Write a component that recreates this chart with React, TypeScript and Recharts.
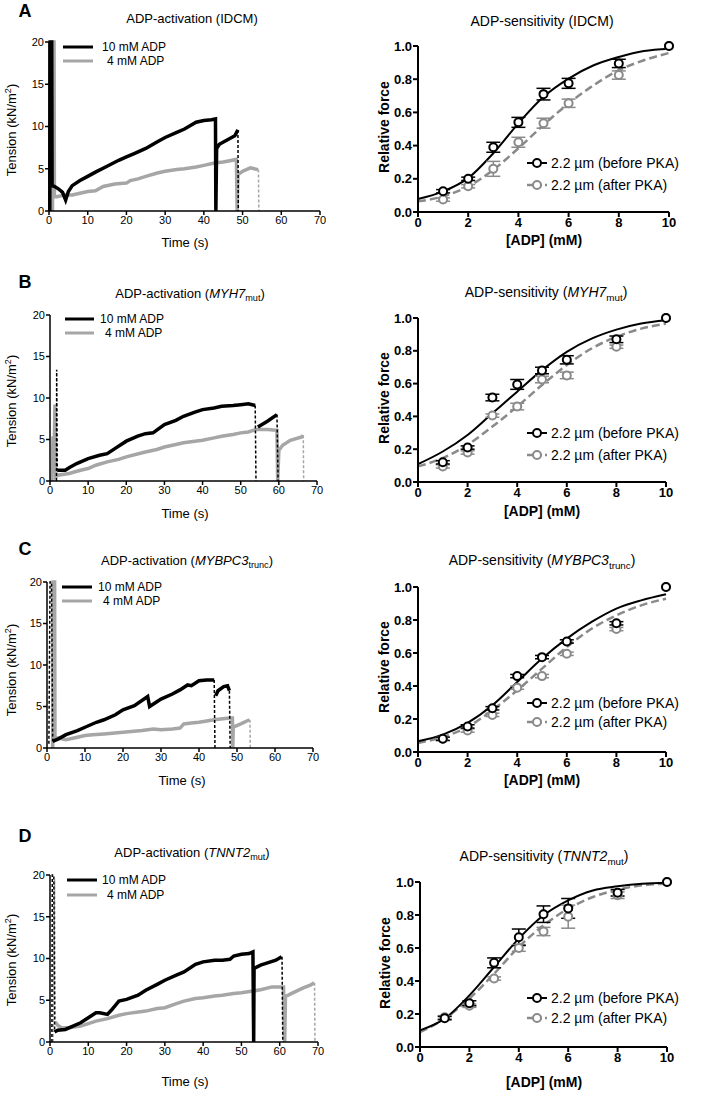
import React from 'react';
import { LineChart, Line, XAxis, YAxis, ErrorBar } from 'recharts';

const FONT = '"Liberation Sans", Arial, Helvetica, sans-serif';
const TRACE_GREY = '#a6a6a6';
const FIT_GREY = '#8a8a8a';

// ---------- ADP-activation traces: [time (s), tension (kN/m2)], null = gap ----------
const idcm10: (number | null)[][] = [
  [0.2, 0], [0.3, 20], [0.7, 20], [0.8, 3.0], [1.5, 2.9], [2.5, 2.6], [3.5, 2.2], [4.3, 1.3], [5, 2.3], [6, 3.0],
  [8, 3.6], [10, 4.1], [12, 4.6], [15, 5.3], [18, 6.0], [20, 6.4], [22, 6.8], [25, 7.4], [28, 8.2], [30, 8.7],
  [33, 9.3], [35, 9.7], [38, 10.5], [40, 10.7], [42, 10.8], [43, 10.9], [43.1, 0], [43.3, 7.4], [44, 7.9],
  [46, 8.4], [48, 8.9], [48.8, 9.6],
];
const idcm10Drop: (number | null)[][] = [[48.8, 9.6], [48.9, 0]];
const idcm4: (number | null)[][] = [
  [0.9, 0], [1.0, 20], [1.3, 20], [1.4, 1.7], [2, 1.7], [4, 1.9], [6, 1.9], [8, 2.1], [10, 2.3], [12, 2.4],
  [14, 2.9], [17, 3.2], [20, 3.3], [21, 3.6], [23, 3.8], [25, 4.1], [28, 4.5], [30, 4.7], [33, 4.9], [35, 5.0],
  [38, 5.2], [40, 5.4], [43, 5.7], [45, 5.8], [48.4, 6.1], [48.6, 0], [48.8, 4.3], [50, 4.7], [52, 5.1], [54, 4.9],
];
const idcm4Drop: (number | null)[][] = [[54.1, 4.9], [54.2, 0]];

const myh710: (number | null)[][] = [
  [1.9, 1.3], [4, 1.3], [5, 1.6], [7, 2.1], [10, 2.7], [13, 3.1], [15, 3.3], [17, 3.9], [20, 4.8], [23, 5.4],
  [25, 5.7], [27, 5.8], [30, 6.8], [33, 7.3], [35, 7.8], [38, 8.3], [40, 8.6], [43, 8.8], [45, 9.0], [48, 9.1],
  [50, 9.2], [52, 9.3], [53.8, 9.1], [54.2, null], [54.5, 6.5], [57, 7.2], [59.5, 8.0],
];
const myh710Drop: (number | null)[][] = [
  [1.7, 0], [1.75, 13.4], [1.9, 1.3], [1.95, null], [53.8, 9.1], [54, 0], [54.1, null], [59.5, 8.0], [59.8, 0],
];
const myh74: (number | null)[][] = [
  [0.5, 0], [0.8, 5.4], [1.0, 1.0], [1.3, 9.2], [1.5, 0.5], [2, 0.7], [5, 0.9], [8, 1.3], [10, 1.5], [12, 1.9],
  [15, 2.3], [18, 2.6], [20, 2.9], [25, 3.5], [28, 3.8], [30, 4.1], [33, 4.4], [35, 4.6], [38, 4.8], [40, 4.9],
  [43, 5.2], [45, 5.4], [48, 5.6], [50, 5.8], [52, 5.9], [54, 6.2], [57, 6.2], [59.5, 6.1], [59.7, 0], [60, 3.7],
  [61, 4.3], [63, 4.9], [66, 5.3], [66.3, 5.5],
];
const myh74Drop: (number | null)[][] = [[66.4, 5.5], [66.5, 0]];

const mybpc310: (number | null)[][] = [
  [1.5, 0.8], [3, 1.1], [5, 1.6], [8, 2.1], [10, 2.5], [13, 3.1], [15, 3.4], [18, 4.0], [20, 4.6], [23, 5.1],
  [26.5, 6.2], [27, 5.0], [30, 5.9], [33, 6.5], [35, 7.0], [37, 7.6], [38, 7.5], [40, 8.1], [42, 8.2], [44, 8.2],
  [44.3, null], [44.4, 6.3], [45, 6.9], [46.5, 7.4], [47.5, 7.5], [48, 6.9],
];
const mybpc310Drop: (number | null)[][] = [
  [0.5, 0.5], [0.8, 20], [1.2, 20], [1.5, 0.8], [1.6, null], [44, 8.2], [44.2, 0], [44.3, null], [48, 6.9], [48.2, 0],
];
const mybpc34: (number | null)[][] = [
  [1.5, 0], [1.6, 20], [2.0, 20], [2.1, 1.2], [3, 1.2], [5, 1.0], [8, 1.3], [10, 1.5], [12, 1.6], [15, 1.7],
  [20, 1.9], [25, 2.1], [28, 2.3], [30, 2.2], [33, 2.3], [35, 2.4], [36, 2.9], [38, 3.0], [40, 3.1], [44, 3.4],
  [48, 3.6], [48.8, 3.6], [48.9, 0], [49, 2.5], [51, 2.9], [53.3, 3.4],
];
const mybpc34Drop: (number | null)[][] = [[53.4, 3.4], [53.5, 0]];

const tnnt210: (number | null)[][] = [
  [1.2, 1.2], [2, 1.4], [4, 1.5], [6, 1.9], [8, 2.3], [10, 2.9], [12, 3.5], [13, 3.5], [15, 3.3], [16, 3.8],
  [18, 4.9], [20, 5.1], [23, 5.6], [25, 6.2], [28, 6.9], [30, 7.4], [33, 8.0], [35, 8.4], [38, 9.3], [40, 9.6],
  [43, 9.8], [45, 9.8], [47, 9.9], [48, 10.3], [50, 10.5], [52, 10.6], [53, 10.8], [53.2, 0], [53.3, 8.8],
  [55, 9.2], [57, 9.5], [59, 9.8], [60.5, 10.2],
];
const tnnt210Drop: (number | null)[][] = [
  [0.5, 0], [0.6, 20], [1.0, 20], [1.2, 1.2], [1.3, null], [60.6, 10.2], [60.8, 0],
];
const tnnt24: (number | null)[][] = [
  [1.4, 2.4], [2, 2.0], [3, 1.7], [5, 1.7], [8, 1.9], [10, 2.2], [12, 2.5], [15, 2.8], [18, 3.2], [20, 3.4],
  [25, 3.7], [28, 4.0], [30, 4.1], [33, 4.6], [35, 4.9], [38, 5.2], [40, 5.3], [43, 5.5], [45, 5.6], [48, 5.8],
  [50, 5.9], [53, 6.1], [55, 6.25], [58, 6.6], [61, 6.6], [61.3, 0], [61.5, 5.45], [63, 5.8], [66, 6.45],
  [68, 6.8], [69, 7.1],
];
const tnnt24Drop: (number | null)[][] = [[0.8, 0], [1.2, 19.5], [1.4, 2.4], [1.5, null], [69.1, 7.1], [69.2, 0]];

const timeTicks = [0, 10, 20, 30, 40, 50, 60, 70];
const tensionTicks = [0, 5, 10, 15, 20];

// ---------- ADP-sensitivity: relative force ----------
const adpConc = [1, 2, 3, 4, 5, 6, 8, 10];
const fitConc = [0, 1, 2, 3, 4, 5, 6, 7, 8, 9, 10];

const idcmBefore = [0.125, 0.2, 0.39, 0.54, 0.71, 0.775, 0.895, 1.0];
const idcmBeforeErr = [0.01, 0.01, 0.03, 0.03, 0.035, 0.03, 0.025, 0];
const idcmAfter = [0.075, 0.155, 0.26, 0.42, 0.535, 0.655, 0.825, 1.0];
const idcmAfterErr = [0.01, 0.01, 0.045, 0.03, 0.03, 0.025, 0.025, 0];
const idcmFitBefore = [0.078, 0.124, 0.204, 0.354, 0.534, 0.694, 0.804, 0.884, 0.934, 0.97, 0.984];
const idcmFitAfter = [0.064, 0.094, 0.154, 0.254, 0.384, 0.524, 0.654, 0.764, 0.854, 0.914, 0.958];

const myh7Before = [0.12, 0.21, 0.515, 0.595, 0.68, 0.745, 0.87, 1.0];
const myh7BeforeErr = [0.01, 0.01, 0.02, 0.03, 0.02, 0.025, 0.02, 0];
const myh7After = [0.095, 0.18, 0.405, 0.46, 0.625, 0.65, 0.825, 1.0];
const myh7AfterErr = [0.01, 0.01, 0.01, 0.02, 0.02, 0.02, 0.01, 0];
const myh7FitBefore = [0.109, 0.186, 0.287, 0.419, 0.551, 0.682, 0.794, 0.874, 0.929, 0.966, 0.986];
const myh7FitAfter = [0.095, 0.146, 0.227, 0.338, 0.46, 0.591, 0.713, 0.814, 0.885, 0.935, 0.966];

const mybpc3Before = [0.08, 0.155, 0.265, 0.46, 0.575, 0.67, 0.78, 1.0];
const mybpc3BeforeErr = [0.01, 0.01, 0.01, 0.01, 0.01, 0.01, 0.01, 0];
const mybpc3After = [0.08, 0.13, 0.225, 0.39, 0.46, 0.595, 0.745, 1.0];
const mybpc3AfterErr = [0.01, 0.01, 0.01, 0.01, 0.01, 0.01, 0.01, 0];
const mybpc3FitBefore = [0.065, 0.105, 0.176, 0.283, 0.424, 0.566, 0.687, 0.788, 0.869, 0.919, 0.956];
const mybpc3FitAfter = [0.055, 0.091, 0.152, 0.253, 0.374, 0.505, 0.636, 0.747, 0.828, 0.889, 0.929];

const tnnt2Before = [0.175, 0.265, 0.51, 0.665, 0.805, 0.84, 0.935, 1.0];
const tnnt2BeforeErr = [0.01, 0.015, 0.03, 0.05, 0.05, 0.06, 0.02, 0];
const tnnt2After = [0.18, 0.25, 0.415, 0.6, 0.7, 0.79, 0.92, 1.0];
const tnnt2AfterErr = [0.01, 0.01, 0.01, 0.02, 0.025, 0.07, 0.02, 0];
const tnnt2FitBefore = [0.101, 0.172, 0.313, 0.485, 0.657, 0.798, 0.889, 0.949, 0.974, 0.99, 0.996];
const tnnt2FitAfter = [0.09, 0.172, 0.293, 0.444, 0.606, 0.737, 0.838, 0.909, 0.953, 0.98, 0.99];

const forceTicks = [0, 0.2, 0.4, 0.6, 0.8, 1.0];
const concTicks = [0, 2, 4, 6, 8, 10];

const toTrace = (arr: (number | null)[][]) => arr.map(([t, y]) => ({ t, y }));
const toPoints = (ys: number[], es: number[]) => adpConc.map((x, i) => ({ x, y: ys[i], e: es[i] }));
const toFit = (ys: number[]) => fitConc.map((x, i) => ({ x, y: ys[i] }));

// ---------- layout ----------
const abs = (x: number, y: number, extra: React.CSSProperties = {}): React.CSSProperties => ({
  position: 'absolute',
  left: x,
  top: y,
  transform: 'translate(-50%, -50%)',
  whiteSpace: 'nowrap',
  fontFamily: FONT,
  color: '#000',
  lineHeight: 1.1,
  ...extra,
});

const Sub = ({ children }: { children: React.ReactNode }) => (
  <sub style={{ fontSize: '0.7em', verticalAlign: '-0.35em', lineHeight: 0 }}>{children}</sub>
);

function TraceChart({ box, black, blackDrop, grey, greyDrop }: any) {
  const x0 = 0, x1 = 345, y0 = box.t - 15, y1 = box.b + 25;
  const axis = { stroke: '#000', strokeWidth: 1.5 };
  return (
    <div style={{ position: 'absolute', left: x0, top: y0 }}>
      <LineChart
        width={x1 - x0}
        height={y1 - y0}
        margin={{ top: box.t - y0, right: x1 - box.r, left: 0, bottom: 0 }}
      >
        <XAxis
          type="number"
          dataKey="t"
          domain={[0, 70]}
          ticks={timeTicks}
          interval={0}
          height={y1 - box.b}
          axisLine={axis}
          tickLine={axis}
          tickSize={4}
          tickMargin={1}
          tick={{ fontSize: 11, fill: '#000', fontFamily: FONT }}
        />
        <YAxis
          type="number"
          domain={[0, 20]}
          ticks={tensionTicks}
          interval={0}
          width={box.l - x0}
          axisLine={axis}
          tickLine={axis}
          tickSize={4}
          tickMargin={1}
          tick={{ fontSize: 11, fill: '#000', fontFamily: FONT }}
        />
        <Line data={toTrace(greyDrop)} dataKey="y" stroke={TRACE_GREY} strokeWidth={1.5} strokeDasharray="3 2" dot={false} isAnimationActive={false} />
        <Line data={toTrace(grey)} dataKey="y" stroke={TRACE_GREY} strokeWidth={3.5} dot={false} isAnimationActive={false} />
        <Line data={toTrace(blackDrop)} dataKey="y" stroke="#000" strokeWidth={1.5} strokeDasharray="3 2" dot={false} isAnimationActive={false} />
        <Line data={toTrace(black)} dataKey="y" stroke="#000" strokeWidth={3.5} dot={false} isAnimationActive={false} />
      </LineChart>
    </div>
  );
}

function ForceChart({ box, before, beforeErr, after, afterErr, fitBefore, fitAfter }: any) {
  const x0 = 354, x1 = 708, y0 = box.t - 15, y1 = box.b + 25;
  const axis = { stroke: '#000', strokeWidth: 2 };
  const tick = { fontSize: 13, fill: '#000', fontFamily: FONT, fontWeight: 'bold' };
  return (
    <div style={{ position: 'absolute', left: x0, top: y0 }}>
      <LineChart
        width={x1 - x0}
        height={y1 - y0}
        margin={{ top: box.t - y0, right: x1 - box.r, left: 0, bottom: 0 }}
      >
        <XAxis
          type="number"
          dataKey="x"
          domain={[0, 10]}
          ticks={concTicks}
          interval={0}
          height={y1 - box.b}
          axisLine={axis}
          tickLine={axis}
          tickSize={5}
          tickMargin={1}
          tick={tick}
        />
        <YAxis
          type="number"
          domain={[0, 1]}
          ticks={forceTicks}
          interval={0}
          width={box.l - x0}
          axisLine={axis}
          tickLine={axis}
          tickSize={5}
          tickMargin={1}
          tick={tick}
          tickFormatter={(v: number) => v.toFixed(1)}
        />
        <Line data={toFit(fitAfter)} dataKey="y" type="monotone" stroke={FIT_GREY} strokeWidth={2.5} strokeDasharray="8 4" dot={false} isAnimationActive={false} />
        <Line data={toFit(fitBefore)} dataKey="y" type="monotone" stroke="#000" strokeWidth={2} dot={false} isAnimationActive={false} />
        <Line
          data={toPoints(after, afterErr)}
          dataKey="y"
          stroke="none"
          strokeWidth={0}
          dot={{ r: 4, fill: '#fff', stroke: FIT_GREY, strokeWidth: 2 }}
          isAnimationActive={false}
        >
          <ErrorBar dataKey="e" width={7} stroke={FIT_GREY} strokeWidth={1.5} direction="y" />
        </Line>
        <Line
          data={toPoints(before, beforeErr)}
          dataKey="y"
          stroke="none"
          strokeWidth={0}
          dot={{ r: 4, fill: '#fff', stroke: '#000', strokeWidth: 2 }}
          isAnimationActive={false}
        >
          <ErrorBar dataKey="e" width={7} stroke="#000" strokeWidth={1.5} direction="y" />
        </Line>
      </LineChart>
    </div>
  );
}

function TraceLegend({ x, y1, y2, tx }: { x: [number, number]; y1: number; y2: number; tx: number }) {
  const text: React.CSSProperties = { fontSize: 12, lineHeight: '13px', transform: 'translate(0, -50%)' };
  return (
    <>
      <svg style={{ position: 'absolute', left: x[0], top: y1 - 2 }} width={x[1] - x[0]} height={4}>
        <line x1={0} x2={x[1] - x[0]} y1={2} y2={2} stroke="#000" strokeWidth={3} />
      </svg>
      <svg style={{ position: 'absolute', left: x[0], top: y2 - 2 }} width={x[1] - x[0]} height={4}>
        <line x1={0} x2={x[1] - x[0]} y1={2} y2={2} stroke={TRACE_GREY} strokeWidth={3} />
      </svg>
      <div style={{ ...abs(tx, y1), ...text }}>10 mM ADP</div>
      <div style={{ ...abs(tx + 5, y2), ...text }}>4 mM ADP</div>
    </>
  );
}

function ForceLegend({ y1, y2 }: { y1: number; y2: number }) {
  const sample = (y: number, colour: string, dashed: boolean) => (
    <svg style={{ position: 'absolute', left: 526, top: y - 6 }} width={22} height={12}>
      <line x1={1} x2={21} y1={6} y2={6} stroke={colour} strokeWidth={dashed ? 2.5 : 2} strokeDasharray={dashed ? '6 3' : undefined} />
      <circle cx={11} cy={6} r={4} fill="#fff" stroke={colour} strokeWidth={2} />
    </svg>
  );
  const text: React.CSSProperties = { fontSize: 14, lineHeight: '15px', transform: 'translate(0, -50%)' };
  return (
    <>
      {sample(y1, '#000', false)}
      {sample(y2, FIT_GREY, true)}
      <div style={{ ...abs(551, y1), ...text }}>2.2 µm (before PKA)</div>
      <div style={{ ...abs(551, y2), ...text }}>2.2 µm (after PKA)</div>
    </>
  );
}

const rot = { transform: 'translate(-50%, -50%) rotate(-90deg)' };
const Sup2 = () => <sup style={{ fontSize: '0.7em', lineHeight: 0 }}>2</sup>;

export default function App() {
  return (
    <div style={{ position: 'absolute', left: 0, top: 0, width: 708, height: 1099, background: '#fff', fontFamily: FONT }}>
      {/* ---------- A ---------- */}
      <div style={abs(25, 12, { fontSize: 18, fontWeight: 'bold' })}>A</div>
      <div style={abs(192, 19, { fontSize: 13 })}>ADP-activation (IDCM)</div>
      <TraceChart box={{ l: 49, r: 320, t: 42, b: 211 }} black={idcm10} blackDrop={idcm10Drop} grey={idcm4} greyDrop={idcm4Drop} />
      <TraceLegend x={[63, 93]} y1={47} y2={61} tx={102} />
      <div style={{ ...abs(12, 130, { fontSize: 13 }), ...rot }}>Tension (kN/m<Sup2 />)</div>
      <div style={abs(185, 243, { fontSize: 13 })}>Time (s)</div>

      <div style={abs(542, 22, { fontSize: 14 })}>ADP-sensitivity (IDCM)</div>
      <ForceChart box={{ l: 418, r: 669, t: 46, b: 212 }} before={idcmBefore} beforeErr={idcmBeforeErr} after={idcmAfter} afterErr={idcmAfterErr} fitBefore={idcmFitBefore} fitAfter={idcmFitAfter} />
      <ForceLegend y1={163} y2={185} />
      <div style={{ ...abs(385, 127, { fontSize: 14, fontWeight: 'bold' }), ...rot }}>Relative force</div>
      <div style={abs(544, 241, { fontSize: 14, fontWeight: 'bold' })}>[ADP] (mM)</div>

      {/* ---------- B ---------- */}
      <div style={abs(25, 283, { fontSize: 18, fontWeight: 'bold' })}>B</div>
      <div style={abs(190, 294, { fontSize: 13 })}>ADP-activation (<i>MYH7</i><Sub>mut</Sub>)</div>
      <TraceChart box={{ l: 50, r: 317, t: 315, b: 481 }} black={myh710} blackDrop={myh710Drop} grey={myh74} greyDrop={myh74Drop} />
      <TraceLegend x={[65, 94]} y1={319} y2={333} tx={100} />
      <div style={{ ...abs(12, 401, { fontSize: 13 }), ...rot }}>Tension (kN/m<Sup2 />)</div>
      <div style={abs(185, 514, { fontSize: 13 })}>Time (s)</div>

      <div style={abs(546, 293, { fontSize: 14 })}>ADP-sensitivity (<i>MYH7</i><Sub>mut</Sub>)</div>
      <ForceChart box={{ l: 418, r: 666, t: 318, b: 482 }} before={myh7Before} beforeErr={myh7BeforeErr} after={myh7After} afterErr={myh7AfterErr} fitBefore={myh7FitBefore} fitAfter={myh7FitAfter} />
      <ForceLegend y1={433} y2={455} />
      <div style={{ ...abs(385, 398, { fontSize: 14, fontWeight: 'bold' }), ...rot }}>Relative force</div>
      <div style={abs(542, 512, { fontSize: 14, fontWeight: 'bold' })}>[ADP] (mM)</div>

      {/* ---------- C ---------- */}
      <div style={abs(25, 550, { fontSize: 18, fontWeight: 'bold' })}>C</div>
      <div style={abs(187, 561, { fontSize: 13 })}>ADP-activation (<i>MYBPC3</i><Sub>trunc</Sub>)</div>
      <TraceChart box={{ l: 47, r: 313, t: 582, b: 748 }} black={mybpc310} blackDrop={mybpc310Drop} grey={mybpc34} greyDrop={mybpc34Drop} />
      <TraceLegend x={[62, 92]} y1={587} y2={601} tx={98} />
      <div style={{ ...abs(12, 670, { fontSize: 13 }), ...rot }}>Tension (kN/m<Sup2 />)</div>
      <div style={abs(182, 781, { fontSize: 13 })}>Time (s)</div>

      <div style={abs(542, 561, { fontSize: 14 })}>ADP-sensitivity (<i>MYBPC3</i><Sub>trunc</Sub>)</div>
      <ForceChart box={{ l: 418, r: 666, t: 587, b: 752 }} before={mybpc3Before} beforeErr={mybpc3BeforeErr} after={mybpc3After} afterErr={mybpc3AfterErr} fitBefore={mybpc3FitBefore} fitAfter={mybpc3FitAfter} />
      <ForceLegend y1={703} y2={722} />
      <div style={{ ...abs(385, 667, { fontSize: 14, fontWeight: 'bold' }), ...rot }}>Relative force</div>
      <div style={abs(542, 781, { fontSize: 14, fontWeight: 'bold' })}>[ADP] (mM)</div>

      {/* ---------- D ---------- */}
      <div style={abs(25, 837, { fontSize: 18, fontWeight: 'bold' })}>D</div>
      <div style={abs(192, 853, { fontSize: 13 })}>ADP-activation (<i>TNNT2</i><Sub>mut</Sub>)</div>
      <TraceChart box={{ l: 50, r: 318, t: 875, b: 1042 }} black={tnnt210} blackDrop={tnnt210Drop} grey={tnnt24} greyDrop={tnnt24Drop} />
      <TraceLegend x={[67, 97]} y1={880} y2={895} tx={102} />
      <div style={{ ...abs(12, 960, { fontSize: 13 }), ...rot }}>Tension (kN/m<Sup2 />)</div>
      <div style={abs(185, 1082, { fontSize: 13 })}>Time (s)</div>

      <div style={abs(544, 857, { fontSize: 14 })}>ADP-sensitivity (<i>TNNT2</i><Sub>mut</Sub>)</div>
      <ForceChart box={{ l: 420, r: 667, t: 882, b: 1047 }} before={tnnt2Before} beforeErr={tnnt2BeforeErr} after={tnnt2After} afterErr={tnnt2AfterErr} fitBefore={tnnt2FitBefore} fitAfter={tnnt2FitAfter} />
      <ForceLegend y1={998} y2={1018} />
      <div style={{ ...abs(386, 963, { fontSize: 14, fontWeight: 'bold' }), ...rot }}>Relative force</div>
      <div style={abs(544, 1083, { fontSize: 14, fontWeight: 'bold' })}>[ADP] (mM)</div>
    </div>
  );
}
